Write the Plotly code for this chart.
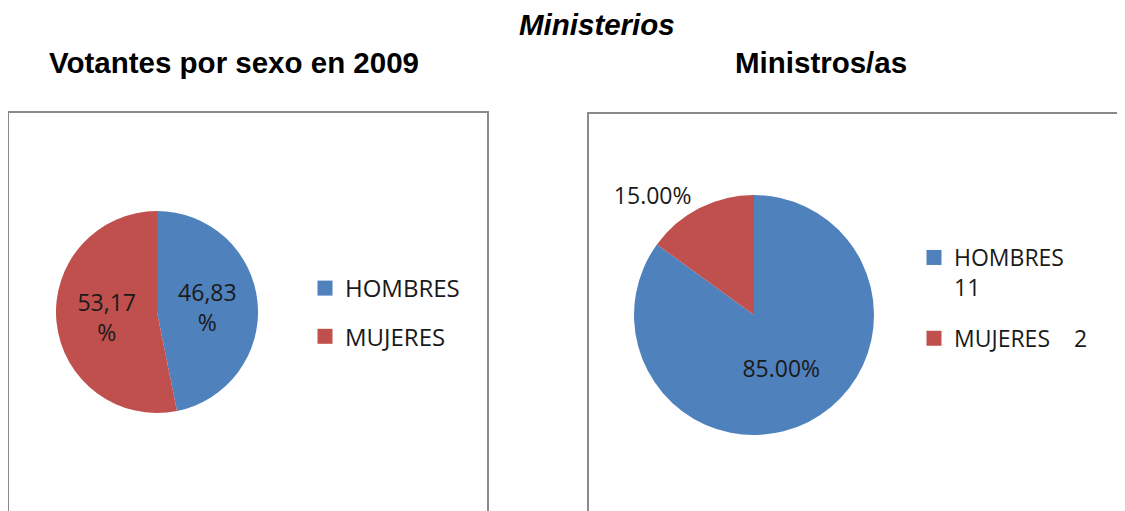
import plotly.graph_objects as go

# la página añade 8px de margen al body
OFF = 8
W, H = 1125 - OFF, 511 - OFF

sexos = ["HOMBRES", "MUJERES"]
colores = ["#4F81BD", "#C0504D"]

votantes_pct = [46.83, 53.17]
ministros_pct = [85.0, 15.0]
ministros_num = [11, 2]

titulo = "Ministerios"
subtitulos = ["Votantes por sexo en 2009", "Ministros/as"]


def px_x(x):
    return (x - OFF) / W


def px_y(y):
    return 1 - (y - OFF) / H


fuente = "Open Sans"
fuente_titulo = "Liberation Sans"
texto_color = "#1a1a1a"

fig = go.Figure()

# pie izquierdo: votantes (coma decimal)
etiquetas_votantes = [f"{v:.2f}".replace(".", ",") + "<br>%" for v in votantes_pct]
fig.add_trace(go.Pie(
    labels=sexos,
    values=votantes_pct,
    text=etiquetas_votantes,
    textinfo="text",
    textposition="inside",
    insidetextorientation="horizontal",
    sort=False,
    direction="clockwise",
    rotation=0,
    marker=dict(colors=colores, line=dict(width=0)),
    textfont=dict(family=fuente, size=24, color=texto_color),
    showlegend=False,
    domain=dict(x=[px_x(56), px_x(258)], y=[px_y(413), px_y(211)]),
))

# pie derecho: ministros/as
fig.add_trace(go.Pie(
    labels=sexos,
    values=ministros_pct,
    texttemplate="%{percent:.2%}",
    textposition=["inside", "outside"],
    insidetextorientation="horizontal",
    sort=False,
    direction="clockwise",
    rotation=0,
    marker=dict(colors=colores, line=dict(width=0)),
    textfont=dict(family=fuente, size=23, color=texto_color),
    showlegend=False,
    domain=dict(x=[px_x(634), px_x(874)], y=[px_y(435), px_y(195)]),
))

# leyendas
for i, s in enumerate(sexos):
    fig.add_trace(go.Scatter(
        x=[None], y=[None], mode="markers", name=s,
        marker=dict(symbol="square", size=15, color=colores[i]),
        legend="legend", legendgroup=f"v{i}",
    ))

separadores = ["<br>", "\u00a0" * 4]
for i, s in enumerate(sexos):
    fig.add_trace(go.Scatter(
        x=[None], y=[None], mode="markers", name=f"{s}{separadores[i]}{ministros_num[i]}",
        marker=dict(symbol="square", size=15, color=colores[i]),
        legend="legend2", legendgroup=f"m{i}",
    ))

fig.update_layout(
    width=W, height=H,
    margin=dict(l=0, r=0, t=0, b=0),
    paper_bgcolor="white",
    plot_bgcolor="white",
    xaxis=dict(visible=False),
    yaxis=dict(visible=False),
    uniformtext=dict(minsize=22, mode="show"),
    legend=dict(
        x=px_x(305), y=px_y(266), xanchor="left", yanchor="top",
        tracegroupgap=14, valign="top",
        font=dict(family=fuente, size=24, color=texto_color),
        bgcolor="rgba(0,0,0,0)",
    ),
    legend2=dict(
        x=px_x(914), y=px_y(236), xanchor="left", yanchor="top",
        tracegroupgap=18, valign="top",
        font=dict(family=fuente, size=23, color=texto_color),
        bgcolor="rgba(0,0,0,0)",
    ),
    shapes=[
        dict(type="rect", xref="paper", yref="paper",
             x0=px_x(8), x1=px_x(488), y0=px_y(530), y1=px_y(112),
             line=dict(color="#8a8a8a", width=2)),
        dict(type="rect", xref="paper", yref="paper",
             x0=px_x(588), x1=px_x(1140), y0=px_y(530), y1=px_y(113),
             line=dict(color="#8a8a8a", width=2)),
    ],
    annotations=[
        dict(text=f"<b><i>{titulo}</i></b>", x=px_x(597), y=px_y(25),
             xref="paper", yref="paper", showarrow=False,
             xanchor="center", yanchor="middle",
             font=dict(family=fuente_titulo, size=29.5, color="black")),
        dict(text=f"<b>{subtitulos[0]}</b>", x=px_x(234), y=px_y(62),
             xref="paper", yref="paper", showarrow=False,
             xanchor="center", yanchor="middle",
             font=dict(family=fuente_titulo, size=29.5, color="black")),
        dict(text=f"<b>{subtitulos[1]}</b>", x=px_x(821), y=px_y(62),
             xref="paper", yref="paper", showarrow=False,
             xanchor="center", yanchor="middle",
             font=dict(family=fuente_titulo, size=29.5, color="black")),
    ],
)

fig.write_html("out.html")
